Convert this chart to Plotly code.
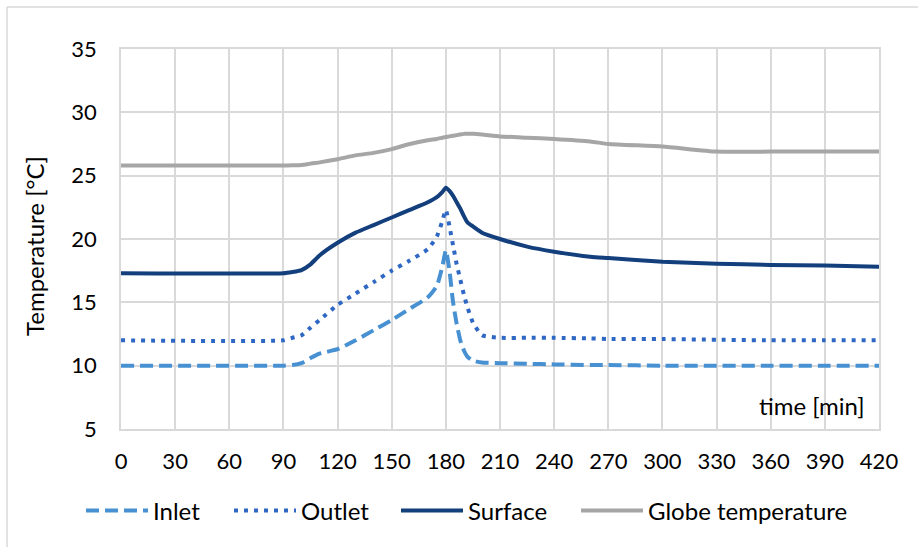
import plotly.graph_objects as go

# time [min]
time = [0, 90, 95, 100, 105, 110, 120, 130, 140, 150, 160, 170, 175, 178, 180,
        182, 184, 186, 188, 190, 192, 195, 200, 210, 225, 240, 260, 270, 300,
        330, 360, 390, 420]

inlet = [10.0, 10.0, 10.05, 10.2, 10.6, 10.95, 11.3, 12.0, 12.8, 13.6, 14.5,
         15.4, 16.3, 17.8, 19.1, 17.5, 15.0, 13.3, 12.0, 11.2, 10.7, 10.4,
         10.25, 10.2, 10.15, 10.1, 10.05, 10.05, 10.0, 10.0, 10.0, 10.0, 10.0]

outlet = [12.0, 12.0, 12.2, 12.4, 13.0, 13.6, 14.8, 15.7, 16.6, 17.5, 18.3,
          19.2, 20.2, 21.4, 22.3, 21.0, 19.5, 18.0, 16.8, 15.6, 14.6, 13.4,
          12.4, 12.2, 12.2, 12.2, 12.15, 12.1, 12.1, 12.05, 12.0, 12.0, 12.0]

surface = [17.3, 17.3, 17.4, 17.55, 18.0, 18.7, 19.7, 20.5, 21.1, 21.7, 22.3,
           22.9, 23.3, 23.7, 24.05, 23.8, 23.4, 22.9, 22.4, 21.8, 21.3, 21.0,
           20.5, 20.0, 19.4, 19.0, 18.6, 18.5, 18.2, 18.05, 17.95, 17.9, 17.8]

globe = [25.8, 25.8, 25.82, 25.85, 25.95, 26.05, 26.3, 26.6, 26.8, 27.1, 27.5,
         27.8, 27.9, 28.0, 28.05, 28.1, 28.15, 28.2, 28.25, 28.3, 28.3, 28.3,
         28.25, 28.1, 28.0, 27.9, 27.7, 27.5, 27.3, 26.9, 26.9, 26.9, 26.9]

x_ticks = list(range(0, 421, 30))
y_ticks = [5, 10, 15, 20, 25, 30, 35]

FONT = "Lato"
TXT = 24
TICK = 22

series = [
    ("Inlet", inlet, dict(color="#4791D2", width=4, dash="13px,6px"), "legend", 89),
    ("Outlet", outlet, dict(color="#2F67C4", width=4, dash="4px,6px"), "legend2", 237),
    ("Surface", surface, dict(color="#133F7D", width=4), "legend3", 404),
    ("Globe temperature", globe, dict(color="#A6A6A6", width=4), "legend4", 584),
]

fig = go.Figure()
legends = {}
for name, vals, line, leg, sx in series:
    fig.add_trace(go.Scatter(x=time, y=vals, name=name, mode="lines",
                             line=dict(shape="spline", smoothing=0.5, **line),
                             legend=leg))
    legends[leg] = dict(orientation="h", x=(sx - 121 - 8) / 758, xanchor="left",
                        y=(429 - 511) / 380, yanchor="middle",
                        font=dict(size=TXT), itemwidth=62,
                        bgcolor="rgba(0,0,0,0)")

grid = "#D9D9D9"
fig.update_layout(
    width=918, height=547,
    margin=dict(l=121, r=39, t=49, b=118),
    paper_bgcolor="white", plot_bgcolor="white",
    font=dict(family=FONT, size=TXT, color="#000000"),
    showlegend=True,
    xaxis=dict(range=[0, 420], tickvals=x_ticks, showgrid=True, gridcolor=grid,
               gridwidth=1.5, zeroline=False, showline=True, linecolor=grid,
               linewidth=1.5, mirror=True, ticks="", ticklabelstandoff=12,
               tickfont=dict(size=TICK)),
    yaxis=dict(range=[5, 35], tickvals=y_ticks, showgrid=True, gridcolor=grid,
               gridwidth=1.5, zeroline=False, showline=True, linecolor=grid,
               linewidth=1.5, mirror=True, ticks="", ticklabelstandoff=18,
               tickfont=dict(size=TICK)),
    annotations=[
        dict(text="time [min]", xref="paper", yref="paper", x=(867 - 121) / 758,
             y=(429 - 405) / 380, xanchor="right", yanchor="middle",
             showarrow=False, font=dict(size=TXT)),
        dict(text="Temperature [°C]", xref="paper", yref="paper",
             x=(35 - 121) / 758, y=(429 - 246) / 380, textangle=-90,
             xanchor="center", yanchor="middle", showarrow=False,
             font=dict(size=TXT)),
    ],
    shapes=[
        dict(type="line", xref="paper", yref="paper", x0=(7 - 121) / 758,
             x1=(930 - 121) / 758, y0=(429 - 7) / 380, y1=(429 - 7) / 380,
             line=dict(color="#D9D9D9", width=1.5)),
        dict(type="line", xref="paper", yref="paper", x0=(7 - 121) / 758,
             x1=(7 - 121) / 758, y0=(429 - 7) / 380, y1=(429 - 560) / 380,
             line=dict(color="#D9D9D9", width=1.5)),
    ],
    **legends,
)

fig.write_html("out.html")
